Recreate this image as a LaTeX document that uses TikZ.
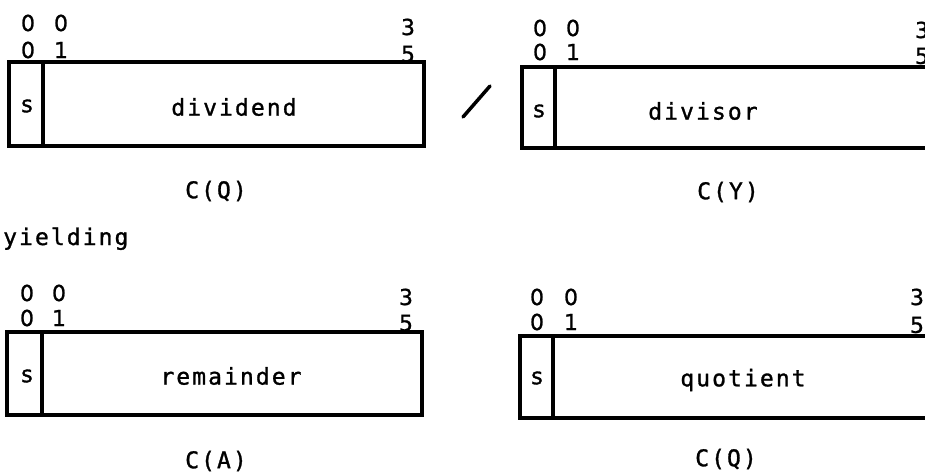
\documentclass[tikz,border=0pt]{standalone}
\usepackage{fontspec}
\newfontfamily\monofnt[LetterSpace=9,FakeBold=1.2]{DejaVu Sans Mono}
\newfontfamily\digfnt[FakeBold=1]{DejaVu Sans}
\begin{document}
\begin{tikzpicture}[x=1pt,y=-1pt,
  txt/.style={inner sep=0pt,font=\monofnt\fontsize{23}{27}\selectfont},
  dig/.style={inner sep=0pt,font=\digfnt\fontsize{22}{26}\selectfont},
  reg/.style={line width=3.5pt},
  slashline/.style={line width=3.5pt,line cap=round}]
\useasboundingbox (0,0) rectangle (925,471);
\clip (0,0) rectangle (925,471);
% top-left register
\draw[reg] (9,62) rectangle (424,146);
\draw[reg] (43,62) -- (43,146);
\node[txt] (tls) at (27,106) {s};
\node[txt] (tlt) at (234,107) {dividend};
\node[txt] (tlc) at (216,191) {C(Q)};
\node[dig] (tla) at (28,23) {0};
\node[dig] (tlb) at (61,23) {0};
\node[dig] (tlc2) at (28,50) {0};
\node[dig] (tld) at (61,50) {1};
\node[dig] (tle) at (408,27) {3};
\node[dig] (tlf) at (408,54) {5};
% slash
\coordinate (sa) at (463,117);
\coordinate (sb) at (490,86);
\draw[slashline] (sa) -- (sb);
% top-right register
\draw[reg] (522,67) rectangle (945,148);
\draw[reg] (555,67) -- (555,148);
\node[txt] (trs) at (539,111) {s};
\node[txt] (trt) at (703,111) {divisor};
\node[txt] (trc) at (728,192) {C(Y)};
\node[dig] (tra) at (540,28) {0};
\node[dig] (trb) at (573,28) {0};
\node[dig] (trc2) at (540,52) {0};
\node[dig] (trd) at (573,52) {1};
\node[dig] (tre) at (922,30) {3};
\node[dig] (trf) at (922,56) {5};
% yielding
\node[txt,anchor=base west] (yl) at (3,245) {yielding};
% bottom-left register
\draw[reg] (7,332) rectangle (422,415);
\draw[reg] (42,332) -- (42,415);
\node[txt] (bls) at (27,376) {s};
\node[txt] (blt) at (231,376) {remainder};
\node[txt] (blc) at (216,461) {C(A)};
\node[dig] (bla) at (27,293) {0};
\node[dig] (blb) at (59,293) {0};
\node[dig] (blc2) at (27,318) {0};
\node[dig] (bld) at (59,318) {1};
\node[dig] (ble) at (406,297) {3};
\node[dig] (blf) at (406,323) {5};
% bottom-right register
\draw[reg] (520,336) rectangle (945,418);
\draw[reg] (553,336) -- (553,418);
\node[txt] (brs) at (537,378) {s};
\node[txt] (brt) at (743,380) {quotient};
\node[txt] (brc) at (726,459) {C(Q)};
\node[dig] (bra) at (537,297) {0};
\node[dig] (brb) at (571,297) {0};
\node[dig] (brc2) at (537,322) {0};
\node[dig] (brd) at (571,322) {1};
\node[dig] (bre) at (917,297) {3};
\node[dig] (brf) at (917,325) {5};
\end{tikzpicture}
\end{document}
